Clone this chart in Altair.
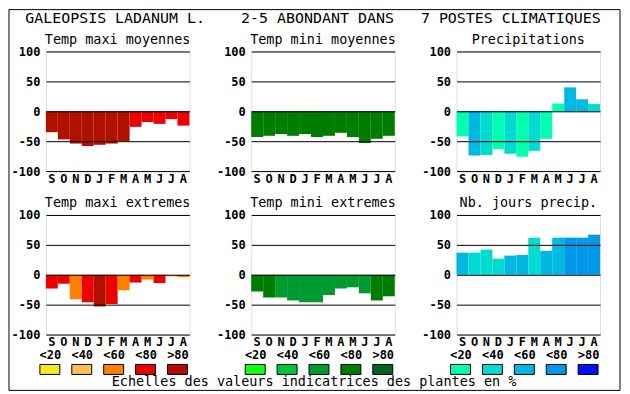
import altair as alt
import pandas as pd

FONT = "DejaVu Sans Mono"
NB = "\u00a0"

months = ["Sep", "Oct", "Nov", "Dec", "Jan", "Feb", "Mar", "Apr", "May", "Jun", "Jul", "Aug"]
classes = ["<20", "<40", "<60", "<80", ">80"]

reds = ["#F8E81C", "#FFBF50", "#FF8000", "#EC0000", "#B01000"]
greens = ["#10FF10", "#00C43C", "#009A30", "#007C00", "#006420"]
blues = ["#00FFB0", "#00DCD0", "#00B8E0", "#0098E8", "#0010F8"]

tmax_moy = [-35, -47, -54, -58, -56, -54, -50, -26, -18, -21, -13, -24]
tmax_moy_cls = [">80", ">80", ">80", ">80", ">80", ">80", ">80", "<80", "<80", "<80", "<80", "<80"]

tmin_moy = [-43, -41, -38, -41, -38, -43, -41, -36, -43, -53, -46, -41]
tmin_moy_cls = ["<80", "<80", "<80", "<80", "<80", "<80", "<80", "<80", "<80", "<80", "<80", "<80"]

precip = [-42, -74, -73, -63, -71, -76, -66, -46, 13, 40, 20, 12]
precip_cls = ["<20", "<60", "<40", "<20", "<40", "<20", "<40", "<20", "<20", "<60", "<60", "<40"]

tmax_ext = [-23, -15, -41, -46, -53, -49, -26, -13, -8, -14, -3, -4]
tmax_ext_cls = ["<80", "<80", "<60", "<80", ">80", "<80", "<60", "<80", "<60", "<80", "<40", "<60"]

tmin_ext = [-28, -38, -38, -43, -46, -46, -34, -23, -21, -31, -43, -36]
tmin_ext_cls = ["<80", "<80", "<60", "<60", "<60", "<60", "<60", "<60", "<60", "<60", "<80", "<80"]

jours = [37, 37, 42, 27, 32, 33, 62, 40, 62, 62, 62, 67]
jours_cls = ["<60", "<40", "<40", "<40", "<60", "<60", "<40", "<60", "<60", "<80", "<80", "<80"]

main_title = ("GALEOPSIS LADANUM L." + NB * 4 + "2-5 ABONDANT DANS" + NB * 3
              + "7 POSTES CLIMATIQUES" + NB + "\u2800")
bottom_text = "Echelles des valeurs indicatrices des plantes en %"


def panel_title(text, subtitle=None):
    kw = dict(font=FONT, fontSize=13.5, fontWeight="normal", color="black",
              anchor="middle", offset=4, dy=5)
    if subtitle is not None:
        return alt.TitleParams(text, subtitle=subtitle, subtitleFont=FONT,
                               subtitleFontSize=13.5, subtitleColor="black",
                               subtitlePadding=7, **{**kw, "fontSize": 15})
    return alt.TitleParams(text, **kw)


def panel(title, values, cls, palette):
    df = pd.DataFrame({"month": months, "value": values, "cls": cls})
    bars = alt.Chart(df).mark_bar().encode(
        x=alt.X(
            "month:N", sort=months,
            scale=alt.Scale(paddingInner=0, paddingOuter=0),
            axis=alt.Axis(title=None, labelExpr="upper(substring(datum.label,0,1))",
                          labelAngle=0, ticks=False, domain=False, grid=False,
                          labelFont=FONT, labelFontWeight="bold", labelFontSize=12,
                          labelPadding=2, labelColor="black"),
        ),
        y=alt.Y(
            "value:Q",
            scale=alt.Scale(domain=[-100, 100], nice=False),
            axis=alt.Axis(title=None, values=[-100, -50, 0, 50, 100],
                          labelExpr="'' + datum.value", ticks=False, domain=False,
                          grid=True, gridColor="black", gridOpacity=1, gridWidth=1,
                          labelFont=FONT, labelFontWeight="bold", labelFontSize=12,
                          labelPadding=6, labelColor="black", zindex=1),
        ),
        color=alt.Color("cls:N", scale=alt.Scale(domain=classes, range=palette), legend=None),
    )
    return bars.properties(width=144, height=120, title=title)


def legend(palette, title=None, with_frame=False):
    df = pd.DataFrame({"cls": classes})
    ch = alt.Chart(df).mark_point(
        shape="M-1,-0.5H1V0.5H-1Z", size=400, filled=True, stroke="black",
        strokeWidth=1, opacity=1
    ).encode(
        x=alt.X("cls:N", sort=classes, scale=alt.Scale(type="point", padding=0.125),
                axis=alt.Axis(orient="top", title=None, ticks=False, domain=False,
                              labelAngle=0, labelFont=FONT, labelFontWeight="bold",
                              labelFontSize=12, labelPadding=17, labelColor="black")),
        y=alt.value(-9),
        color=alt.Color("cls:N", scale=alt.Scale(domain=classes, range=palette), legend=None),
    )
    if with_frame:
        frame = alt.Chart(pd.DataFrame({"k": [0]})).mark_rect(
            fillOpacity=0, stroke="black", strokeWidth=1, clip=False
        ).encode(x=alt.value(-37), x2=alt.value(576), y=alt.value(-370), y2=alt.value(12))
        ch = alt.layer(ch, frame)
    ch = ch.properties(width=136, height=1, view=alt.ViewBackground(stroke="transparent"))
    if title is not None:
        ch = ch.properties(title=title)
    return ch


bottom_title = alt.TitleParams(bottom_text, orient="bottom", font=FONT, fontSize=13.5,
                               fontWeight="normal", color="black", frame="group",
                               anchor="middle", baseline="middle", offset=3, dx=-5)

chart = alt.concat(
    panel(panel_title("Temp maxi moyennes"), tmax_moy, tmax_moy_cls, reds),
    panel(panel_title(main_title, "Temp mini moyennes"), tmin_moy, tmin_moy_cls, greens),
    panel(panel_title("Precipitations"), precip, precip_cls, blues),
    panel(panel_title("Temp maxi extremes"), tmax_ext, tmax_ext_cls, reds),
    panel(panel_title("Temp mini extremes"), tmin_ext, tmin_ext_cls, greens),
    panel(panel_title("Nb. jours precip."), jours, jours_cls, blues),
    legend(reds, with_frame=True),
    legend(greens, bottom_title),
    legend(blues),
    columns=3,
    spacing={"row": 44, "column": 62},
    bounds="flush",
).resolve_scale(color="independent").properties(padding=0).configure_view(
    stroke="black", strokeWidth=1
).configure(background="white")

chart.save("out.html", embed_options={"renderer": "svg", "actions": False})
